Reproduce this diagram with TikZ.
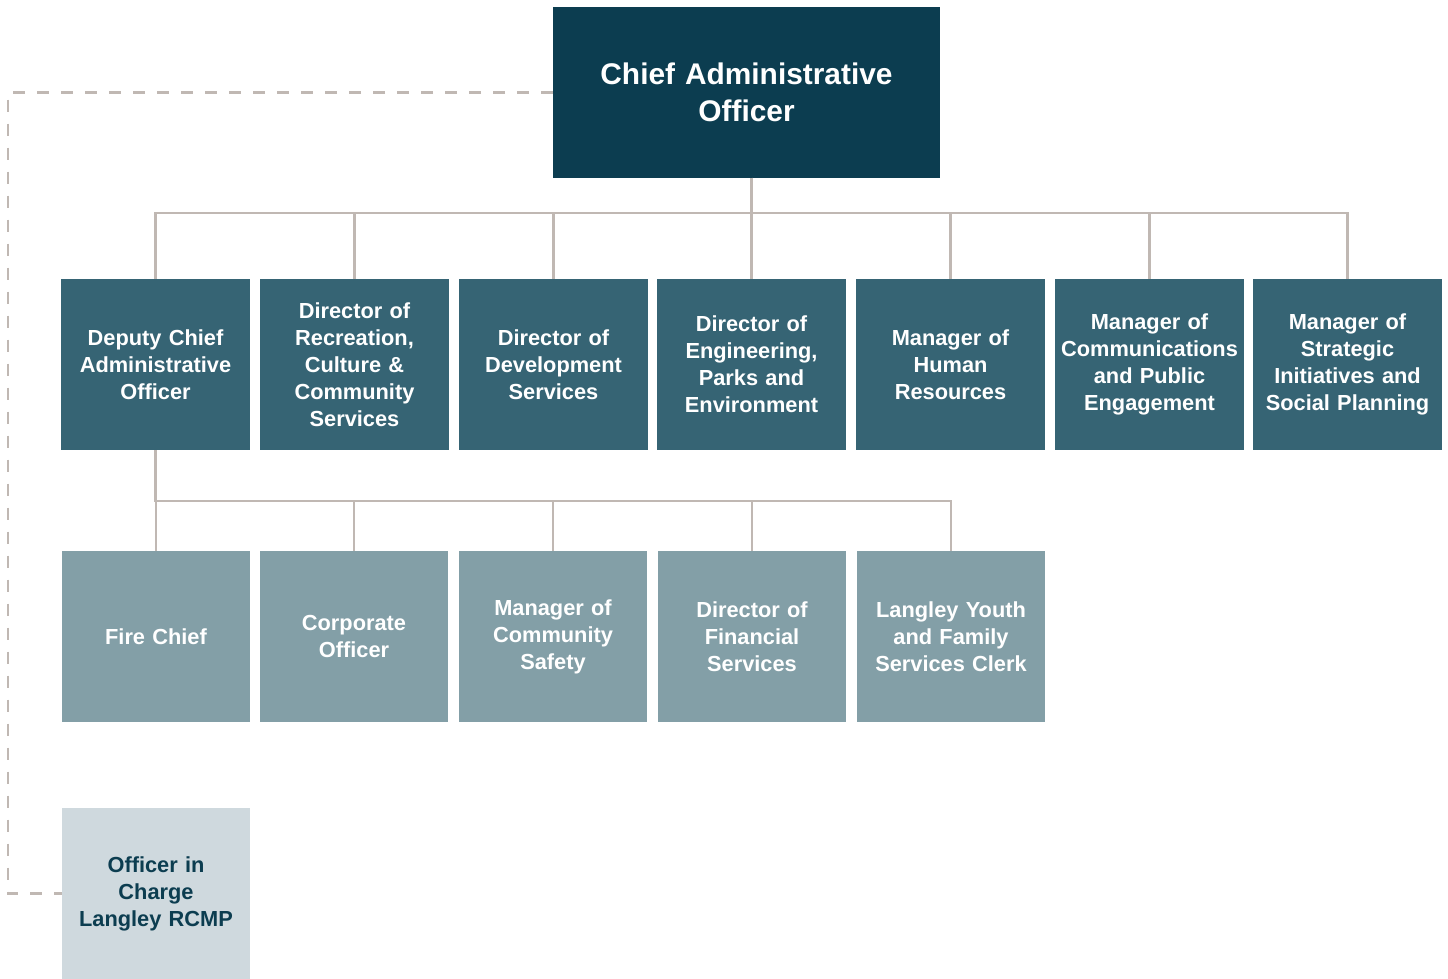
\documentclass[tikz,border=0pt]{standalone}
\usepackage{fontspec}
\setmainfont{Liberation Sans}
\usepackage{tikz}
\definecolor{caoblue}{HTML}{0C3D50}
\definecolor{dirblue}{HTML}{366474}
\definecolor{subblue}{HTML}{839FA7}
\definecolor{rcmpblue}{HTML}{CFD9DE}
\definecolor{linegray}{HTML}{C0B8B3}

\begin{document}
\begin{tikzpicture}[
	box/.style={inner sep=0pt,outer sep=0pt,minimum width=3.78cm,text width=3.78cm,minimum height=3.42cm,align=center,font=\fontsize{12.4}{15.4}\selectfont\bfseries,text=white},
	dirbox/.style={box,fill=dirblue},
	subbox/.style={box,fill=subblue,minimum width=3.76cm,text width=3.76cm},
	link/.style={draw=linegray,line width=1.4pt},
	dotlink/.style={draw=linegray,line width=1.4pt,dash pattern=on 0.24cm off 0.24cm}
]
	\useasboundingbox (0,0) rectangle (28.96,-19.58);
	\node[box,fill=caoblue,minimum width=7.74cm,text width=7.74cm,font=\fontsize{17}{21}\selectfont\bfseries] (cao) at (14.93,-1.85) {Chief Administrative\\Officer};
	\node[dirbox] (dcao) at (3.11,-7.29) {Deputy Chief\\Administrative\\Officer};
	\node[dirbox] (rec) at (7.09,-7.29) {Director of\\Recreation,\\Culture \&\\Community\\Services};
	\node[dirbox] (dev) at (11.07,-7.29) {Director of\\Development\\Services};
	\node[dirbox] (eng) at (15.03,-7.29) {Director of\\Engineering,\\Parks and\\Environment};
	\node[dirbox] (hr) at (19.01,-7.29) {Manager of\\Human\\Resources};
	\node[dirbox] (comm) at (22.99,-7.29) {Manager of\\Communications\\and Public\\Engagement};
	\node[dirbox] (strat) at (26.95,-7.29) {Manager of\\Strategic\\Initiatives and\\Social Planning};
	\node[subbox] (fire) at (3.12,-12.73) {Fire Chief};
	\node[subbox] (corp) at (7.08,-12.73) {Corporate\\Officer};
	\node[subbox] (safety) at (11.06,-12.73) {Manager of\\Community\\Safety};
	\node[subbox] (fin) at (15.04,-12.73) {Director of\\Financial\\Services};
	\node[subbox] (youth) at (19.02,-12.73) {Langley Youth\\and Family\\Services Clerk};
	\node[box,fill=rcmpblue,text=caoblue,minimum width=3.76cm,text width=3.76cm] (rcmp) at (3.12,-17.87) {Officer in\\Charge\\Langley RCMP};
	\foreach \d in {dcao,rec,dev,eng,hr,comm,strat}
		\draw[link] (cao.south -| eng.north) -- ++(0,-0.7) -| (\d.north);
	\foreach \s in {fire,corp,safety,fin,youth}
		\draw[link] (dcao.south) -- ++(0,-1.02) -| (\s.north);
	\draw[dotlink] (cao.west) -- ++(-10.9,0) |- (rcmp.west);
\end{tikzpicture}
\end{document}
